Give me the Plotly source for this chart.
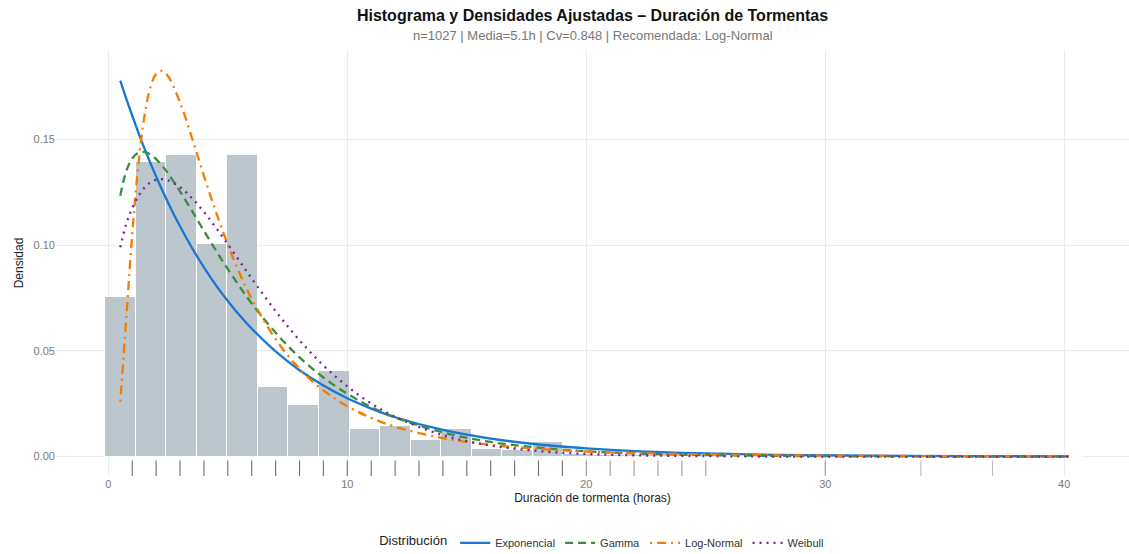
import plotly.graph_objects as go

# ---------------- data ----------------
bin_width = 1.279
bin_centers = [0.5, 1.779, 3.058, 4.337, 5.616, 6.895, 8.174, 9.453, 10.732, 12.011,
               13.29, 14.569, 15.848, 17.127, 18.406, 19.685, 20.964, 22.243, 23.522, 24.801,
               26.08, 27.359, 28.638, 29.917, 31.196, 32.475, 33.754, 35.033, 36.312, 37.591,
               38.87, 40.149]
bin_density = [0.0755, 0.1394, 0.1425, 0.1006, 0.1425, 0.0330, 0.0245, 0.0405, 0.0131, 0.0146,
               0.0077, 0.0131, 0.0038, 0.0031, 0.0070, 0.0010, 0.0008, 0.0008, 0.0015, 0.0008,
               0.0, 0.0, 0.0, 0.0008, 0.0, 0.0, 0.0008, 0.0, 0.0, 0.0008,
               0.0, 0.0]

curve_x = [0.5, 0.75, 1.0, 1.25, 1.5, 1.75, 2.0, 2.25, 2.5, 3.0, 3.5, 4.0, 4.5, 5, 5.5, 6, 7, 8,
           9, 10, 11, 12, 14, 16, 18, 20, 22, 25, 28, 32, 36, 40.2]
dens_exponencial = [0.1778, 0.1693, 0.1612, 0.1535, 0.1461, 0.1391, 0.1325, 0.1261, 0.1201, 0.1089,
                    0.0987, 0.0895, 0.0811, 0.0736, 0.0667, 0.0605, 0.0497, 0.0408, 0.0336, 0.0276,
                    0.0227, 0.0186, 0.0126, 0.0085, 0.0057, 0.0039, 0.0026, 0.0015, 0.0008, 0.0004,
                    0.0002, 0.0001]
dens_gamma = [0.1234, 0.1350, 0.1410, 0.1437, 0.1441, 0.1430, 0.1407, 0.1376, 0.1339, 0.1254,
              0.1162, 0.1068, 0.0975, 0.0887, 0.0803, 0.0724, 0.0586, 0.0469, 0.0374, 0.0297,
              0.0234, 0.0185, 0.0114, 0.0069, 0.0042, 0.0025, 0.0015, 0.0007, 0.0003, 0.0001,
              0.0000, 0.0000]
dens_lognormal = [0.0259, 0.0652, 0.1050, 0.1374, 0.1602, 0.1742, 0.1810, 0.1824, 0.1799, 0.1675,
                  0.1507, 0.1328, 0.1158, 0.1003, 0.0865, 0.0746, 0.0555, 0.0415, 0.0313, 0.0238,
                  0.0183, 0.0141, 0.0087, 0.0055, 0.0036, 0.0024, 0.0016, 0.0010, 0.0006, 0.0003,
                  0.0002, 0.0001]
dens_weibull = [0.0990, 0.1100, 0.1175, 0.1230, 0.1270, 0.1296, 0.1309, 0.1312, 0.1306, 0.1274,
                0.1222, 0.1157, 0.1083, 0.1004, 0.0923, 0.0842, 0.0688, 0.0550, 0.0431, 0.0332,
                0.0251, 0.0188, 0.0101, 0.0052, 0.0026, 0.0012, 0.0006, 0.0002, 0.0000, 0.0000,
                0.0000, 0.0000]

rug_frequent = [1, 2, 3, 4, 5, 6, 7, 8, 9, 10, 11, 12, 13, 14, 15, 16, 17, 18, 19]
rug_medium = [20, 21, 22, 23, 24, 25, 30]
rug_rare = [34, 37]

series_names = ["Exponencial", "Gamma", "Log-Normal", "Weibull"]
x_ticks = [0, 10, 20, 30, 40]
y_ticks = [0.0, 0.05, 0.10, 0.15]

title_text = "Histograma y Densidades Ajustadas – Duración de Tormentas"
subtitle_text = "n=1027 | Media=5.1h | Cv=0.848 | Recomendada: Log-Normal"

# ---------------- styles ----------------
FONT = "Liberation Sans, Arial, sans-serif"
colors = ["#1976D2", "#388E3C", "#F57C00", "#7B1FA2"]
dashes = ["solid", "8px,5px", "2px,5px,9px,5px", "2px,5px"]
curves = [dens_exponencial, dens_gamma, dens_lognormal, dens_weibull]

fig = go.Figure()

fig.add_trace(go.Bar(
    x=bin_centers, y=bin_density, width=bin_width,
    marker=dict(color="#B0BEC5", opacity=0.85, line=dict(color="white", width=1)),
    showlegend=False, hoverinfo="skip"))

for name, ys, c, d in zip(series_names, curves, colors, dashes):
    fig.add_trace(go.Scatter(
        x=curve_x, y=ys, mode="lines", name=name, line_shape="spline",
        line=dict(color=c, width=2.3, dash=d)))

rug_y = -0.00615
for vals, col in [(rug_frequent, "#6E6E6E"), (rug_medium, "#9A9A9A"), (rug_rare, "#BDBDBD")]:
    fig.add_trace(go.Scatter(
        x=vals, y=[rug_y] * len(vals), mode="markers", showlegend=False, hoverinfo="skip",
        marker=dict(symbol="line-ns", size=13, line=dict(color=col, width=1.1))))

fig.update_layout(
    width=1129, height=554,
    margin=dict(l=56, r=0, t=50, b=78, autoexpand=False),
    paper_bgcolor="white", plot_bgcolor="white",
    font=dict(family=FONT, color="#333333"),
    title=dict(text="<b>" + title_text + "</b>", x=0.5, xref="paper", xanchor="center",
               y=1 - 15 / 554, yref="container", yanchor="middle",
               font=dict(size=16, color="#111111", family=FONT)),
    legend=dict(orientation="h", x=0.51, xanchor="center", xref="paper",
                y=-0.157, yanchor="middle", valign="middle",
                title=dict(text="Distribución", side="left", font=dict(size=13, color="#222222")),
                font=dict(size=11, color="#333333"), itemwidth=30),
    bargap=0,
)
fig.add_annotation(text=subtitle_text, xref="paper", yref="paper", x=0.5, y=1 + 14 / 426,
                   xanchor="center", yanchor="middle", showarrow=False,
                   font=dict(size=13, color="#777777", family=FONT))

fig.update_xaxes(range=[-2.19, 42.71], tickvals=x_ticks, showgrid=True, gridcolor="#EBEBEB",
                 gridwidth=1.2, zeroline=False, showline=False, ticks="", automargin=False,
                 tickfont=dict(size=11, color="#7A7A7A"),
                 title=dict(text="Duración de tormenta (horas)", standoff=4,
                            font=dict(size=12, color="#222222")))
fig.update_yaxes(range=[-0.0092, 0.1923], tickvals=y_ticks, tickformat=".2f", showgrid=True,
                 gridcolor="#EBEBEB", gridwidth=1.2, zeroline=False, showline=False, ticks="",
                 automargin=False,
                 tickfont=dict(size=11, color="#7A7A7A"),
                 title=dict(text="Densidad", standoff=7, font=dict(size=12, color="#222222")))

fig.write_html("out.html", config={"displayModeBar": False},
               post_script="document.body.style.margin='0';document.body.style.overflow='hidden';")
